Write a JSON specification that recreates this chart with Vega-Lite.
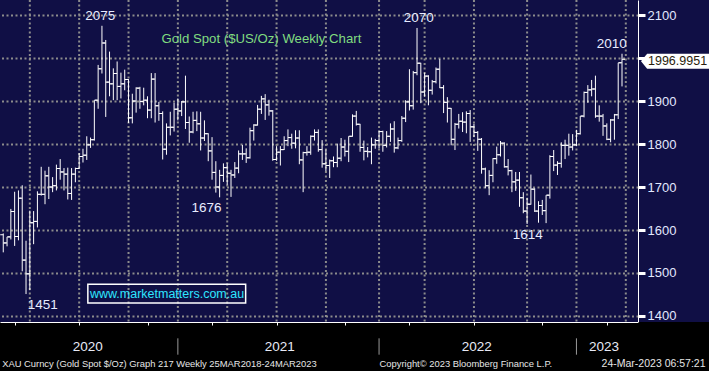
{
  "$schema": "https://vega.github.io/schema/vega-lite/v6.json",
  "width": 638,
  "height": 322,
  "autosize": {"type": "none"},
  "padding": {"left": 0, "top": 0, "right": 71, "bottom": 49},
  "background": "#100f45",
  "config": {"view": {"stroke": null}, "font": "Liberation Sans"},
  "datasets": {
    "bars": [
      {"date":"2020-02-07","open":1589,"high":1592,"low":1548,"close":1570},
      {"date":"2020-02-14","open":1570,"high":1584,"low":1562,"close":1584},
      {"date":"2020-02-21","open":1584,"high":1649,"low":1578,"close":1643},
      {"date":"2020-02-28","open":1643,"high":1689,"low":1563,"close":1585},
      {"date":"2020-03-06","open":1585,"high":1692,"low":1576,"close":1674},
      {"date":"2020-03-13","open":1674,"high":1704,"low":1504,"close":1530},
      {"date":"2020-03-20","open":1530,"high":1575,"low":1451,"close":1498},
      {"date":"2020-03-27","open":1498,"high":1645,"low":1460,"close":1617},
      {"date":"2020-04-03","open":1617,"high":1644,"low":1567,"close":1620},
      {"date":"2020-04-10","open":1620,"high":1690,"low":1606,"close":1683},
      {"date":"2020-04-17","open":1683,"high":1747,"low":1680,"close":1683},
      {"date":"2020-04-24","open":1683,"high":1738,"low":1660,"close":1726},
      {"date":"2020-05-01","open":1726,"high":1747,"low":1672,"close":1700},
      {"date":"2020-05-08","open":1700,"high":1723,"low":1688,"close":1703},
      {"date":"2020-05-15","open":1703,"high":1752,"low":1692,"close":1743},
      {"date":"2020-05-22","open":1743,"high":1765,"low":1717,"close":1735},
      {"date":"2020-05-29","open":1735,"high":1744,"low":1692,"close":1730},
      {"date":"2020-06-05","open":1730,"high":1745,"low":1671,"close":1685},
      {"date":"2020-06-12","open":1685,"high":1744,"low":1670,"close":1730},
      {"date":"2020-06-19","open":1730,"high":1745,"low":1711,"close":1743},
      {"date":"2020-06-26","open":1743,"high":1779,"low":1742,"close":1771},
      {"date":"2020-07-03","open":1771,"high":1789,"low":1757,"close":1774},
      {"date":"2020-07-10","open":1774,"high":1818,"low":1763,"close":1798},
      {"date":"2020-07-17","open":1798,"high":1815,"low":1791,"close":1810},
      {"date":"2020-07-24","open":1810,"high":1902,"low":1808,"close":1902},
      {"date":"2020-07-31","open":1902,"high":1984,"low":1882,"close":1975},
      {"date":"2020-08-07","open":1975,"high":2075,"low":1964,"close":2035},
      {"date":"2020-08-14","open":2035,"high":2042,"low":1863,"close":1944},
      {"date":"2020-08-21","open":1944,"high":2015,"low":1911,"close":1940},
      {"date":"2020-08-28","open":1940,"high":1976,"low":1902,"close":1964},
      {"date":"2020-09-04","open":1964,"high":1992,"low":1902,"close":1934},
      {"date":"2020-09-11","open":1934,"high":1966,"low":1906,"close":1940},
      {"date":"2020-09-18","open":1940,"high":1973,"low":1925,"close":1950},
      {"date":"2020-09-25","open":1950,"high":1951,"low":1849,"close":1861},
      {"date":"2020-10-02","open":1861,"high":1917,"low":1848,"close":1900},
      {"date":"2020-10-09","open":1900,"high":1932,"low":1873,"close":1930},
      {"date":"2020-10-16","open":1930,"high":1933,"low":1882,"close":1899},
      {"date":"2020-10-23","open":1899,"high":1931,"low":1890,"close":1902},
      {"date":"2020-10-30","open":1902,"high":1911,"low":1860,"close":1879},
      {"date":"2020-11-06","open":1879,"high":1965,"low":1860,"close":1951},
      {"date":"2020-11-13","open":1951,"high":1965,"low":1850,"close":1889},
      {"date":"2020-11-20","open":1889,"high":1898,"low":1854,"close":1871},
      {"date":"2020-11-27","open":1871,"high":1876,"low":1764,"close":1788},
      {"date":"2020-12-04","open":1788,"high":1848,"low":1775,"close":1839},
      {"date":"2020-12-11","open":1839,"high":1875,"low":1820,"close":1839},
      {"date":"2020-12-18","open":1839,"high":1896,"low":1829,"close":1881},
      {"date":"2020-12-25","open":1881,"high":1906,"low":1855,"close":1877},
      {"date":"2021-01-01","open":1877,"high":1900,"low":1865,"close":1898},
      {"date":"2021-01-08","open":1898,"high":1959,"low":1835,"close":1850},
      {"date":"2021-01-15","open":1850,"high":1864,"low":1803,"close":1828},
      {"date":"2021-01-22","open":1828,"high":1875,"low":1825,"close":1855},
      {"date":"2021-01-29","open":1855,"high":1876,"low":1830,"close":1847},
      {"date":"2021-02-05","open":1847,"high":1875,"low":1785,"close":1814},
      {"date":"2021-02-12","open":1814,"high":1855,"low":1807,"close":1824},
      {"date":"2021-02-19","open":1824,"high":1825,"low":1760,"close":1784},
      {"date":"2021-02-26","open":1784,"high":1816,"low":1717,"close":1734},
      {"date":"2021-03-05","open":1734,"high":1760,"low":1687,"close":1700},
      {"date":"2021-03-12","open":1700,"high":1740,"low":1676,"close":1727},
      {"date":"2021-03-19","open":1727,"high":1755,"low":1712,"close":1745},
      {"date":"2021-03-26","open":1745,"high":1755,"low":1705,"close":1732},
      {"date":"2021-04-02","open":1732,"high":1740,"low":1677,"close":1728},
      {"date":"2021-04-09","open":1728,"high":1758,"low":1721,"close":1744},
      {"date":"2021-04-16","open":1744,"high":1785,"low":1732,"close":1777},
      {"date":"2021-04-23","open":1777,"high":1798,"low":1763,"close":1777},
      {"date":"2021-04-30","open":1777,"high":1790,"low":1756,"close":1768},
      {"date":"2021-05-07","open":1768,"high":1838,"low":1766,"close":1831},
      {"date":"2021-05-14","open":1831,"high":1846,"low":1808,"close":1844},
      {"date":"2021-05-21","open":1844,"high":1891,"low":1843,"close":1881},
      {"date":"2021-05-28","open":1881,"high":1912,"low":1870,"close":1905},
      {"date":"2021-06-04","open":1905,"high":1916,"low":1856,"close":1891},
      {"date":"2021-06-11","open":1891,"high":1903,"low":1866,"close":1877},
      {"date":"2021-06-18","open":1877,"high":1879,"low":1761,"close":1764},
      {"date":"2021-06-25","open":1764,"high":1795,"low":1761,"close":1781},
      {"date":"2021-07-02","open":1781,"high":1795,"low":1750,"close":1787},
      {"date":"2021-07-09","open":1787,"high":1818,"low":1786,"close":1808},
      {"date":"2021-07-16","open":1808,"high":1834,"low":1795,"close":1815},
      {"date":"2021-07-23","open":1815,"high":1824,"low":1789,"close":1802},
      {"date":"2021-07-30","open":1802,"high":1832,"low":1790,"close":1814},
      {"date":"2021-08-06","open":1814,"high":1832,"low":1753,"close":1763},
      {"date":"2021-08-13","open":1763,"high":1782,"low":1688,"close":1780},
      {"date":"2021-08-20","open":1780,"high":1795,"low":1773,"close":1781},
      {"date":"2021-08-27","open":1781,"high":1820,"low":1775,"close":1818},
      {"date":"2021-09-03","open":1818,"high":1834,"low":1808,"close":1827},
      {"date":"2021-09-10","open":1827,"high":1834,"low":1782,"close":1787},
      {"date":"2021-09-17","open":1787,"high":1809,"low":1745,"close":1754},
      {"date":"2021-09-24","open":1754,"high":1787,"low":1737,"close":1750},
      {"date":"2021-10-01","open":1750,"high":1764,"low":1721,"close":1761},
      {"date":"2021-10-08","open":1761,"high":1771,"low":1746,"close":1757},
      {"date":"2021-10-15","open":1757,"high":1801,"low":1746,"close":1767},
      {"date":"2021-10-22","open":1767,"high":1814,"low":1760,"close":1793},
      {"date":"2021-10-29","open":1793,"high":1810,"low":1771,"close":1783},
      {"date":"2021-11-05","open":1783,"high":1818,"low":1758,"close":1818},
      {"date":"2021-11-12","open":1818,"high":1869,"low":1817,"close":1865},
      {"date":"2021-11-19","open":1865,"high":1877,"low":1843,"close":1846},
      {"date":"2021-11-26","open":1846,"high":1847,"low":1782,"close":1792},
      {"date":"2021-12-03","open":1792,"high":1808,"low":1762,"close":1783},
      {"date":"2021-12-10","open":1783,"high":1793,"low":1769,"close":1782},
      {"date":"2021-12-17","open":1782,"high":1815,"low":1753,"close":1798},
      {"date":"2021-12-24","open":1798,"high":1812,"low":1789,"close":1808},
      {"date":"2021-12-31","open":1808,"high":1831,"low":1790,"close":1829},
      {"date":"2022-01-07","open":1829,"high":1831,"low":1782,"close":1797},
      {"date":"2022-01-14","open":1797,"high":1830,"low":1792,"close":1818},
      {"date":"2022-01-21","open":1818,"high":1848,"low":1805,"close":1835},
      {"date":"2022-01-28","open":1835,"high":1853,"low":1780,"close":1791},
      {"date":"2022-02-04","open":1791,"high":1815,"low":1788,"close":1808},
      {"date":"2022-02-11","open":1808,"high":1865,"low":1805,"close":1860},
      {"date":"2022-02-18","open":1860,"high":1902,"low":1851,"close":1898},
      {"date":"2022-02-25","open":1898,"high":1974,"low":1878,"close":1889},
      {"date":"2022-03-04","open":1889,"high":1970,"low":1880,"close":1966},
      {"date":"2022-03-11","open":1966,"high":2070,"low":1960,"close":1988},
      {"date":"2022-03-18","open":1988,"high":1989,"low":1895,"close":1921},
      {"date":"2022-03-25","open":1921,"high":1966,"low":1910,"close":1958},
      {"date":"2022-04-01","open":1958,"high":1960,"low":1890,"close":1925},
      {"date":"2022-04-08","open":1925,"high":1949,"low":1915,"close":1945},
      {"date":"2022-04-15","open":1945,"high":1978,"low":1941,"close":1974},
      {"date":"2022-04-22","open":1974,"high":1998,"low":1930,"close":1931},
      {"date":"2022-04-29","open":1931,"high":1937,"low":1872,"close":1897},
      {"date":"2022-05-06","open":1897,"high":1909,"low":1850,"close":1883},
      {"date":"2022-05-13","open":1883,"high":1884,"low":1797,"close":1811},
      {"date":"2022-05-20","open":1811,"high":1849,"low":1786,"close":1846},
      {"date":"2022-05-27","open":1846,"high":1870,"low":1836,"close":1853},
      {"date":"2022-06-03","open":1853,"high":1874,"low":1828,"close":1851},
      {"date":"2022-06-10","open":1851,"high":1876,"low":1825,"close":1871},
      {"date":"2022-06-17","open":1871,"high":1879,"low":1805,"close":1840},
      {"date":"2022-06-24","open":1840,"high":1847,"low":1816,"close":1827},
      {"date":"2022-07-01","open":1827,"high":1830,"low":1784,"close":1811},
      {"date":"2022-07-08","open":1811,"high":1814,"low":1731,"close":1742},
      {"date":"2022-07-15","open":1742,"high":1745,"low":1697,"close":1703},
      {"date":"2022-07-22","open":1703,"high":1739,"low":1681,"close":1727},
      {"date":"2022-07-29","open":1727,"high":1767,"low":1711,"close":1766},
      {"date":"2022-08-05","open":1766,"high":1794,"low":1754,"close":1775},
      {"date":"2022-08-12","open":1775,"high":1807,"low":1771,"close":1802},
      {"date":"2022-08-19","open":1802,"high":1804,"low":1745,"close":1747},
      {"date":"2022-08-26","open":1747,"high":1765,"low":1727,"close":1738},
      {"date":"2022-09-02","open":1738,"high":1740,"low":1688,"close":1712},
      {"date":"2022-09-09","open":1712,"high":1735,"low":1691,"close":1716},
      {"date":"2022-09-16","open":1716,"high":1735,"low":1654,"close":1675},
      {"date":"2022-09-23","open":1675,"high":1688,"low":1639,"close":1644},
      {"date":"2022-09-30","open":1644,"high":1675,"low":1614,"close":1660},
      {"date":"2022-10-07","open":1660,"high":1729,"low":1659,"close":1695},
      {"date":"2022-10-14","open":1695,"high":1697,"low":1642,"close":1644},
      {"date":"2022-10-21","open":1644,"high":1667,"low":1617,"close":1657},
      {"date":"2022-10-28","open":1657,"high":1670,"low":1635,"close":1645},
      {"date":"2022-11-04","open":1645,"high":1681,"low":1616,"close":1681},
      {"date":"2022-11-11","open":1681,"high":1774,"low":1673,"close":1771},
      {"date":"2022-11-18","open":1771,"high":1786,"low":1737,"close":1751},
      {"date":"2022-11-25","open":1751,"high":1760,"low":1728,"close":1755},
      {"date":"2022-12-02","open":1755,"high":1804,"low":1745,"close":1797},
      {"date":"2022-12-09","open":1797,"high":1810,"low":1765,"close":1797},
      {"date":"2022-12-16","open":1797,"high":1824,"low":1773,"close":1793},
      {"date":"2022-12-23","open":1793,"high":1823,"low":1785,"close":1798},
      {"date":"2022-12-30","open":1798,"high":1833,"low":1795,"close":1824},
      {"date":"2023-01-06","open":1824,"high":1865,"low":1822,"close":1865},
      {"date":"2023-01-13","open":1865,"high":1922,"low":1862,"close":1920},
      {"date":"2023-01-20","open":1920,"high":1937,"low":1896,"close":1926},
      {"date":"2023-01-27","open":1926,"high":1949,"low":1911,"close":1928},
      {"date":"2023-02-03","open":1928,"high":1959,"low":1861,"close":1865},
      {"date":"2023-02-10","open":1865,"high":1890,"low":1852,"close":1865},
      {"date":"2023-02-17","open":1865,"high":1870,"low":1819,"close":1842},
      {"date":"2023-02-24","open":1842,"high":1848,"low":1809,"close":1811},
      {"date":"2023-03-03","open":1811,"high":1858,"low":1804,"close":1856},
      {"date":"2023-03-10","open":1856,"high":1870,"low":1810,"close":1868},
      {"date":"2023-03-17","open":1868,"high":1989,"low":1858,"close":1989},
      {"date":"2023-03-24","open":1989,"high":2010,"low":1934,"close":1997}
    ],
    "notes": [
      {"date":"2020-08-04","price":2075,"label":"2075","kind":"high"},
      {"date":"2022-03-14","price":2070,"label":"2070","kind":"high"},
      {"date":"2023-03-05","price":2010,"label":"2010","kind":"high"},
      {"date":"2020-04-20","price":1451,"label":"1451","kind":"low"},
      {"date":"2021-02-16","price":1676,"label":"1676","kind":"low"},
      {"date":"2022-10-01","price":1614,"label":"1614","kind":"low"}
    ],
    "quarters": [
      {"date":"2020-03-27"},{"date":"2020-06-26"},{"date":"2020-09-25"},{"date":"2020-12-25"},
      {"date":"2021-03-26"},{"date":"2021-06-25"},{"date":"2021-09-24"},{"date":"2021-12-31"},
      {"date":"2022-03-25"},{"date":"2022-06-24"},{"date":"2022-09-30"},{"date":"2022-12-30"},
      {"date":"2023-03-31"}
    ]
  },
  "layer": [
    {
      "data": {"values": [{}]},
      "mark": {"type": "rect", "fill": "#000000", "clip": false},
      "encoding": {
        "x": {"datum": {"year": 2019, "month": 12, "date": 1}, "type": "temporal"},
        "x2": {"datum": {"year": 2023, "month": 10, "date": 1}},
        "y": {"datum": 1386, "type": "quantitative"},
        "y2": {"datum": 1200}
      }
    },
    {
      "data": {"name": "quarters"},
      "mark": {"type": "rule", "color": "#8c8c8c", "strokeWidth": 2, "strokeDash": [2, 2.5]},
      "encoding": {
        "x": {"field": "date", "type": "temporal"}
      }
    },
    {
      "data": {"name": "bars"},
      "mark": {"type": "rule", "color": "#ffffff", "strokeWidth": 1},
      "encoding": {
        "x": {
          "field": "date", "type": "temporal",
          "scale": {"domain": [{"year": 2020, "month": 2, "date": 1}, {"year": 2023, "month": 4, "date": 22, "hours": 12}]},
          "axis": {
            "title": null, "labels": false, "zindex": 1, "grid": false,
            "values": [
              {"year":2020,"month":2,"date":28},{"year":2020,"month":3,"date":27},{"year":2020,"month":4,"date":24},{"year":2020,"month":5,"date":29},{"year":2020,"month":6,"date":26},{"year":2020,"month":7,"date":31},{"year":2020,"month":8,"date":28},{"year":2020,"month":9,"date":25},{"year":2020,"month":10,"date":30},{"year":2020,"month":11,"date":27},{"year":2020,"month":12,"date":25},
              {"year":2021,"month":1,"date":29},{"year":2021,"month":2,"date":26},{"year":2021,"month":3,"date":26},{"year":2021,"month":4,"date":30},{"year":2021,"month":5,"date":28},{"year":2021,"month":6,"date":25},{"year":2021,"month":7,"date":30},{"year":2021,"month":8,"date":27},{"year":2021,"month":9,"date":24},{"year":2021,"month":10,"date":29},{"year":2021,"month":11,"date":26},{"year":2021,"month":12,"date":31},
              {"year":2022,"month":1,"date":28},{"year":2022,"month":2,"date":25},{"year":2022,"month":3,"date":25},{"year":2022,"month":4,"date":29},{"year":2022,"month":5,"date":27},{"year":2022,"month":6,"date":24},{"year":2022,"month":7,"date":29},{"year":2022,"month":8,"date":26},{"year":2022,"month":9,"date":30},{"year":2022,"month":10,"date":28},{"year":2022,"month":11,"date":25},{"year":2022,"month":12,"date":30},
              {"year":2023,"month":1,"date":27},{"year":2023,"month":2,"date":24},{"year":2023,"month":3,"date":31}
            ],
            "domainColor": "#ffffff", "domainWidth": 1,
            "tickColor": "#ffffff", "tickSize": 3, "tickWidth": 1
          }
        },
        "y": {
          "field": "low", "type": "quantitative",
          "scale": {"domain": [1386, 2135], "nice": false, "zero": false},
          "axis": {
            "orient": "right", "title": null,
            "values": [1400,1450,1500,1550,1600,1650,1700,1750,1800,1850,1900,1950,2000,2050,2100],
            "labelExpr": "datum.value % 100 === 0 && datum.value !== 2000 ? datum.label : ''",
            "format": "d",
            "labelColor": "#e2e8ff", "labelFontSize": 13, "labelPadding": 2,
            "domainColor": "#ffffff", "domainWidth": 1,
            "tickColor": "#ffffff",
            "tickSize": {"condition": {"test": "datum.value % 100 === 0", "value": 7}, "value": 4},
            "tickWidth": {"condition": {"test": "datum.value % 100 === 0", "value": 3}, "value": 1},
            "grid": true, "gridColor": "#8c8c8c", "gridDash": [2, 2.5], "gridWidth": 2,
            "gridOpacity": {"condition": {"test": "datum.value % 100 === 0", "value": 1}, "value": 0}
          }
        },
        "y2": {"field": "high"}
      }
    },
    {
      "data": {"name": "bars"},
      "mark": {"type": "tick", "orient": "horizontal", "size": 3, "thickness": 1, "xOffset": -1.5, "color": "#ffffff", "opacity": 1},
      "encoding": {
        "x": {"field": "date", "type": "temporal"},
        "y": {"field": "open", "type": "quantitative"}
      }
    },
    {
      "data": {"name": "bars"},
      "mark": {"type": "tick", "orient": "horizontal", "size": 3, "thickness": 1, "xOffset": 1.5, "color": "#ffffff", "opacity": 1},
      "encoding": {
        "x": {"field": "date", "type": "temporal"},
        "y": {"field": "close", "type": "quantitative"}
      }
    },
    {
      "data": {"name": "notes"},
      "transform": [{"filter": "datum.kind === 'high'"}],
      "mark": {"type": "text", "baseline": "bottom", "align": "center", "dy": -3, "fontSize": 13.5, "color": "#e8ecff"},
      "encoding": {
        "x": {"field": "date", "type": "temporal"},
        "y": {"field": "price", "type": "quantitative"},
        "text": {"field": "label"}
      }
    },
    {
      "data": {"name": "notes"},
      "transform": [{"filter": "datum.kind === 'low'"}],
      "mark": {"type": "text", "baseline": "top", "align": "center", "dy": 4, "fontSize": 13.5, "color": "#e8ecff"},
      "encoding": {
        "x": {"field": "date", "type": "temporal"},
        "y": {"field": "price", "type": "quantitative"},
        "text": {"field": "label"}
      }
    },
    {
      "data": {"values": [{}]},
      "mark": {"type": "text", "align": "center", "baseline": "alphabetic", "fontSize": 13.2, "color": "#80dc80"},
      "encoding": {
        "x": {"datum": {"year": 2021, "month": 5, "date": 28}, "type": "temporal"},
        "y": {"datum": 2035, "type": "quantitative"},
        "text": {"value": "Gold Spot ($US/Oz) Weekly Chart"}
      }
    },
    {
      "data": {"values": [{}]},
      "mark": {"type": "rect", "fill": "transparent", "stroke": "#ffffff", "strokeWidth": 1.5},
      "encoding": {
        "x": {"datum": {"year": 2020, "month": 7, "date": 12}, "type": "temporal"},
        "x2": {"datum": {"year": 2021, "month": 4, "date": 29}},
        "y": {"datum": 1474, "type": "quantitative"},
        "y2": {"datum": 1430}
      }
    },
    {
      "data": {"values": [{}]},
      "mark": {"type": "text", "align": "center", "baseline": "alphabetic", "fontSize": 12.5, "color": "#2ee6ff"},
      "encoding": {
        "x": {"datum": {"year": 2020, "month": 12, "date": 5}, "type": "temporal"},
        "y": {"datum": 1441, "type": "quantitative"},
        "text": {"value": "www.marketmatters.com.au"}
      }
    },
    {
      "data": {"values": [
        {"label": "2020", "date": "2020-07-12"},
        {"label": "2021", "date": "2021-07-01"},
        {"label": "2022", "date": "2022-06-29"},
        {"label": "2023", "date": "2023-02-19"}
      ]},
      "mark": {"type": "text", "align": "center", "baseline": "middle", "fontSize": 13.5, "color": "#e8eaf6", "clip": false},
      "encoding": {
        "x": {"field": "date", "type": "temporal"},
        "y": {"datum": 1328, "type": "quantitative"},
        "text": {"field": "label"}
      }
    },
    {
      "data": {"values": [
        {"date": "2020-12-25"},
        {"date": "2021-12-31"},
        {"date": "2022-12-30"}
      ]},
      "mark": {"type": "rule", "color": "#9a9a9a", "strokeWidth": 1, "clip": false},
      "encoding": {
        "x": {"field": "date", "type": "temporal"},
        "y": {"datum": 1348, "type": "quantitative"},
        "y2": {"datum": 1310}
      }
    },
    {
      "data": {"values": [{}]},
      "mark": {"type": "text", "align": "left", "baseline": "middle", "fontSize": 9.4, "color": "#e6e6e6", "clip": false},
      "encoding": {
        "x": {"datum": {"year": 2020, "month": 2, "date": 5}, "type": "temporal"},
        "y": {"datum": 1288, "type": "quantitative"},
        "text": {"value": "XAU Curncy (Gold Spot  $/Oz) Graph 217  Weekly 25MAR2018-24MAR2023"}
      }
    },
    {
      "data": {"values": [{}]},
      "mark": {"type": "text", "align": "left", "baseline": "middle", "fontSize": 9.4, "color": "#e6e6e6", "clip": false},
      "encoding": {
        "x": {"datum": {"year": 2022, "month": 1, "date": 1}, "type": "temporal"},
        "y": {"datum": 1288, "type": "quantitative"},
        "text": {"value": "Copyright© 2023 Bloomberg Finance L.P."}
      }
    },
    {
      "data": {"values": [{}]},
      "mark": {"type": "text", "align": "right", "baseline": "middle", "fontSize": 10.5, "color": "#e6e6e6", "clip": false},
      "encoding": {
        "x": {"datum": {"year": 2023, "month": 8, "date": 25}, "type": "temporal"},
        "y": {"datum": 1288, "type": "quantitative"},
        "text": {"value": "24-Mar-2023 06:57:21"}
      }
    },
    {
      "data": {"values": [{}]},
      "mark": {"type": "point", "shape": "M-1,0L-0.82,-0.22L1,-0.22L1,0.22L-0.82,0.22Z", "size": 4624, "filled": true, "fill": "#ffffff", "opacity": 1, "strokeWidth": 0, "xOffset": 37, "yOffset": 2, "clip": false},
      "encoding": {
        "x": {"datum": {"year": 2023, "month": 4, "date": 22, "hours": 12}, "type": "temporal"},
        "y": {"datum": 1996.9951, "type": "quantitative"}
      }
    },
    {
      "data": {"values": [{}]},
      "mark": {"type": "text", "align": "left", "baseline": "middle", "fontSize": 12.5, "color": "#2a1c0c", "xOffset": 10, "yOffset": 2, "clip": false},
      "encoding": {
        "x": {"datum": {"year": 2023, "month": 4, "date": 22, "hours": 12}, "type": "temporal"},
        "y": {"datum": 1996.9951, "type": "quantitative"},
        "text": {"value": "1996.9951"}
      }
    }
  ]
}
